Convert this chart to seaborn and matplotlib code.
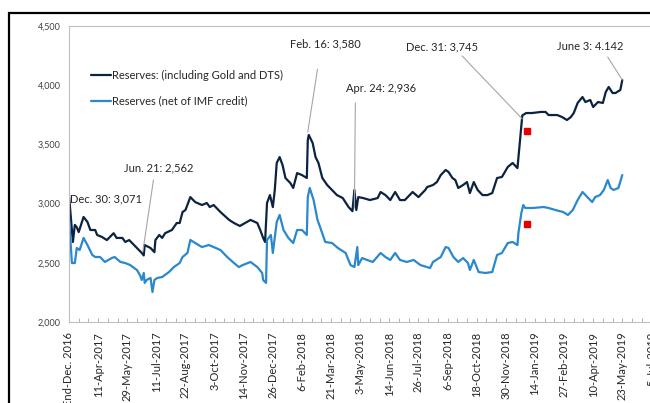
import matplotlib
matplotlib.use("Agg")
import matplotlib.pyplot as plt
import seaborn as sns
from matplotlib.patches import Rectangle
from matplotlib.ticker import FuncFormatter, MultipleLocator

# Position on the x axis = business-day index since end-Dec. 2016
incl_gold_x = [0, 4, 6, 8, 10, 15, 19, 22, 27, 29, 34, 39, 46, 49, 55, 58, 62, 67, 75, 77,
               78, 84, 88, 89, 93, 96, 99, 106, 111, 114, 117, 120, 125, 130, 137, 142, 145,
               149, 156, 165, 170, 176, 187, 194, 197, 200, 202, 204, 207, 210, 212, 214, 217,
               220, 223, 228, 231, 235, 240, 245, 246, 247, 251, 254, 257, 261, 266, 271, 276,
               282, 288, 292, 294, 296, 298, 303, 310, 318, 321, 326, 331, 336, 341, 346, 354,
               360, 367, 369, 375, 379, 383, 388, 391, 395, 398, 401, 406, 410, 413, 417, 421,
               426, 431, 436, 441, 446, 452, 457, 462, 464, 467, 471, 477, 486, 491, 494, 503,
               508, 513, 517, 520, 524, 529, 532, 537, 540, 545, 550, 553, 556, 560, 563, 568, 570]
incl_gold = [3071, 2676, 2820, 2800, 2760, 2887, 2845, 2777, 2777, 2735, 2718, 2692, 2750, 2710,
             2710, 2676, 2692, 2650, 2583, 2562, 2650, 2625, 2590, 2692, 2735, 2710, 2750, 2777,
             2836, 2836, 2929, 2946, 3055, 3013, 2988, 3005, 2971, 2988, 2929, 2862, 2836, 2811,
             2862, 2836, 2777, 2710, 2676, 3005, 3072, 2971, 3115, 3343, 3393, 3326, 3216, 3174,
             3132, 3258, 3241, 3216, 3537, 3580, 3512, 3393, 3343, 3216, 3157, 3115, 3072, 3047,
             2971, 2936, 3115, 2946, 3055, 3047, 3030, 3047, 3098, 3072, 3030, 3098, 3030, 3030,
             3098, 3055, 3115, 3140, 3157, 3182, 3241, 3284, 3267, 3216, 3199, 3132, 3157, 3182,
             3089, 3182, 3115, 3072, 3072, 3089, 3216, 3225, 3309, 3343, 3300, 3478, 3745, 3765,
             3765, 3774, 3774, 3748, 3748, 3731, 3706, 3731, 3765, 3850, 3900, 3858, 3875, 3816,
             3858, 3850, 3943, 3985, 3934, 3934, 3960, 4044]

net_imf_x = [0, 3, 6, 8, 11, 15, 19, 24, 27, 32, 37, 44, 47, 53, 58, 63, 70, 73, 75, 77, 78, 80,
             84, 86, 88, 91, 96, 103, 108, 114, 117, 122, 125, 130, 137, 144, 149, 156, 163, 170,
             175, 179, 187, 194, 199, 200, 203, 204, 208, 210, 214, 217, 221, 226, 231, 235, 240,
             245, 246, 248, 252, 256, 259, 264, 271, 277, 285, 290, 294, 297, 298, 302, 307, 313,
             321, 326, 331, 336, 341, 348, 355, 362, 372, 375, 383, 388, 391, 396, 401, 406, 411,
             413, 417, 422, 429, 436, 441, 446, 452, 457, 462, 463, 466, 468, 470, 478, 489, 494,
             501, 509, 514, 519, 524, 529, 534, 539, 542, 547, 551, 555, 558, 561, 566, 570]
net_imf = [2878, 2498, 2498, 2625, 2608, 2710, 2650, 2566, 2549, 2549, 2507, 2540, 2549, 2507,
           2498, 2481, 2439, 2397, 2355, 2414, 2330, 2355, 2372, 2253, 2355, 2372, 2380, 2422,
           2464, 2498, 2549, 2583, 2693, 2667, 2633, 2650, 2633, 2608, 2549, 2498, 2464, 2481,
           2507, 2464, 2414, 2355, 2330, 2693, 2735, 2583, 2845, 2904, 2777, 2710, 2667, 2777,
           2777, 2735, 3055, 3132, 3030, 2862, 2794, 2676, 2667, 2625, 2583, 2481, 2464, 2633,
           2481, 2540, 2524, 2507, 2583, 2549, 2524, 2583, 2524, 2507, 2524, 2481, 2456, 2507,
           2549, 2633, 2625, 2549, 2507, 2540, 2498, 2439, 2524, 2422, 2414, 2422, 2566, 2583,
           2667, 2676, 2650, 2752, 2920, 2988, 2963, 2963, 2971, 2963, 2946, 2929, 2904, 2946,
           3030, 3098, 3055, 3013, 3055, 3072, 3115, 3199, 3132, 3115, 3132, 3241]

# red markers
marker_x = [472, 472]
marker_y = [3614, 2828]

tick_labels = ["End-Dec. 2016", "11-Apr-2017", "29-May-2017", "11-Jul-2017", "22-Aug-2017",
               "3-Oct-2017", "14-Nov-2017", "26-Dec-2017", "6-Feb-2018", "21-Mar-2018",
               "3-May-2018", "14-Jun-2018", "26-Jul-2018", "6-Sep-2018", "18-Oct-2018",
               "30-Nov-2018", "14-Jan-2019", "27-Feb-2019", "10-Apr-2019", "23-May-2019",
               "5-Jul-2019"]

# (text, text x, text y, leader start, leader end)
notes = [
    ("Jun. 21: 2,562", 92, 3301, (87, 3199), (76, 2591)),
    ("Feb. 16: 3,580", 264, 4348, (256, 4136), (246, 3605)),
    ("Apr. 24: 2,936", 321, 3968, (295, 3850), (294, 2963)),
    ("Dec. 31: 3,745", 384, 4323, (405, 4247), (467, 3715)),
    ("June 3: 4.142", 537, 4323, (555, 4238), (570, 4044)),
]

DARK = "#0c2340"
LIGHT = "#2a88cc"
GREY = "#a6a6a6"

sns.set_style("white")
plt.rcParams["font.family"] = ["Lato", "DejaVu Sans"]

fig = plt.figure(figsize=(6.5, 4.03), dpi=100)
ax = fig.add_axes([69 / 650, 81 / 403, 596 / 650, 296 / 403])

sns.lineplot(x=incl_gold_x, y=incl_gold, ax=ax, color=DARK, lw=1.6, sort=False,
             label="Reserves: (including Gold and DTS)")
sns.lineplot(x=net_imf_x, y=net_imf, ax=ax, color=LIGHT, lw=1.6, sort=False,
             label="Reserves (net of IMF credit)")
ax.plot(marker_x, marker_y, ls="none", marker="s", ms=4, color="#e60000")

for text, tx, ty, p0, p1 in notes:
    ax.text(tx, ty, text, fontsize=8, color="#262626", ha="center", va="center")
    ax.plot([p0[0], p1[0]], [p0[1], p1[1]], color=GREY, lw=0.8)
ax.text(1, 3039, "Dec. 30: 3,071", fontsize=8, color="#262626", va="center")

ax.set_xlim(0, 614)
ax.set_ylim(2000, 4500)
ax.set_yticks(range(2000, 4501, 500))
ax.yaxis.set_major_formatter(FuncFormatter(lambda v, p: f"{v:,.0f}"))
ax.set_xticks(range(0, 601, 30))
ax.set_xticklabels(tick_labels, rotation=90)
ax.xaxis.set_minor_locator(MultipleLocator(10))
ax.tick_params(axis="y", length=0, pad=6, labelsize=6.5, labelcolor="#404040")
ax.tick_params(axis="x", which="both", direction="in", length=3, width=0.6, color=GREY,
               pad=7, labelsize=8, labelcolor="#262626", bottom=True)

for side in ["left", "bottom", "top"]:
    ax.spines[side].set_color("#bfbfbf")
    ax.spines[side].set_linewidth(0.8)
ax.spines["right"].set_visible(False)

ax.legend(loc="upper left", bbox_to_anchor=(0.02, 0.885), frameon=False, fontsize=8,
          handlelength=1.8, handletextpad=0.1, labelspacing=1.3)

# outer chart border
fig.add_artist(Rectangle((9 / 650, -0.1), 1.2, (390 / 403) + 0.1, transform=fig.transFigure,
                         fill=False, edgecolor="black", lw=1.6))

fig.savefig("out.png", dpi=100)
